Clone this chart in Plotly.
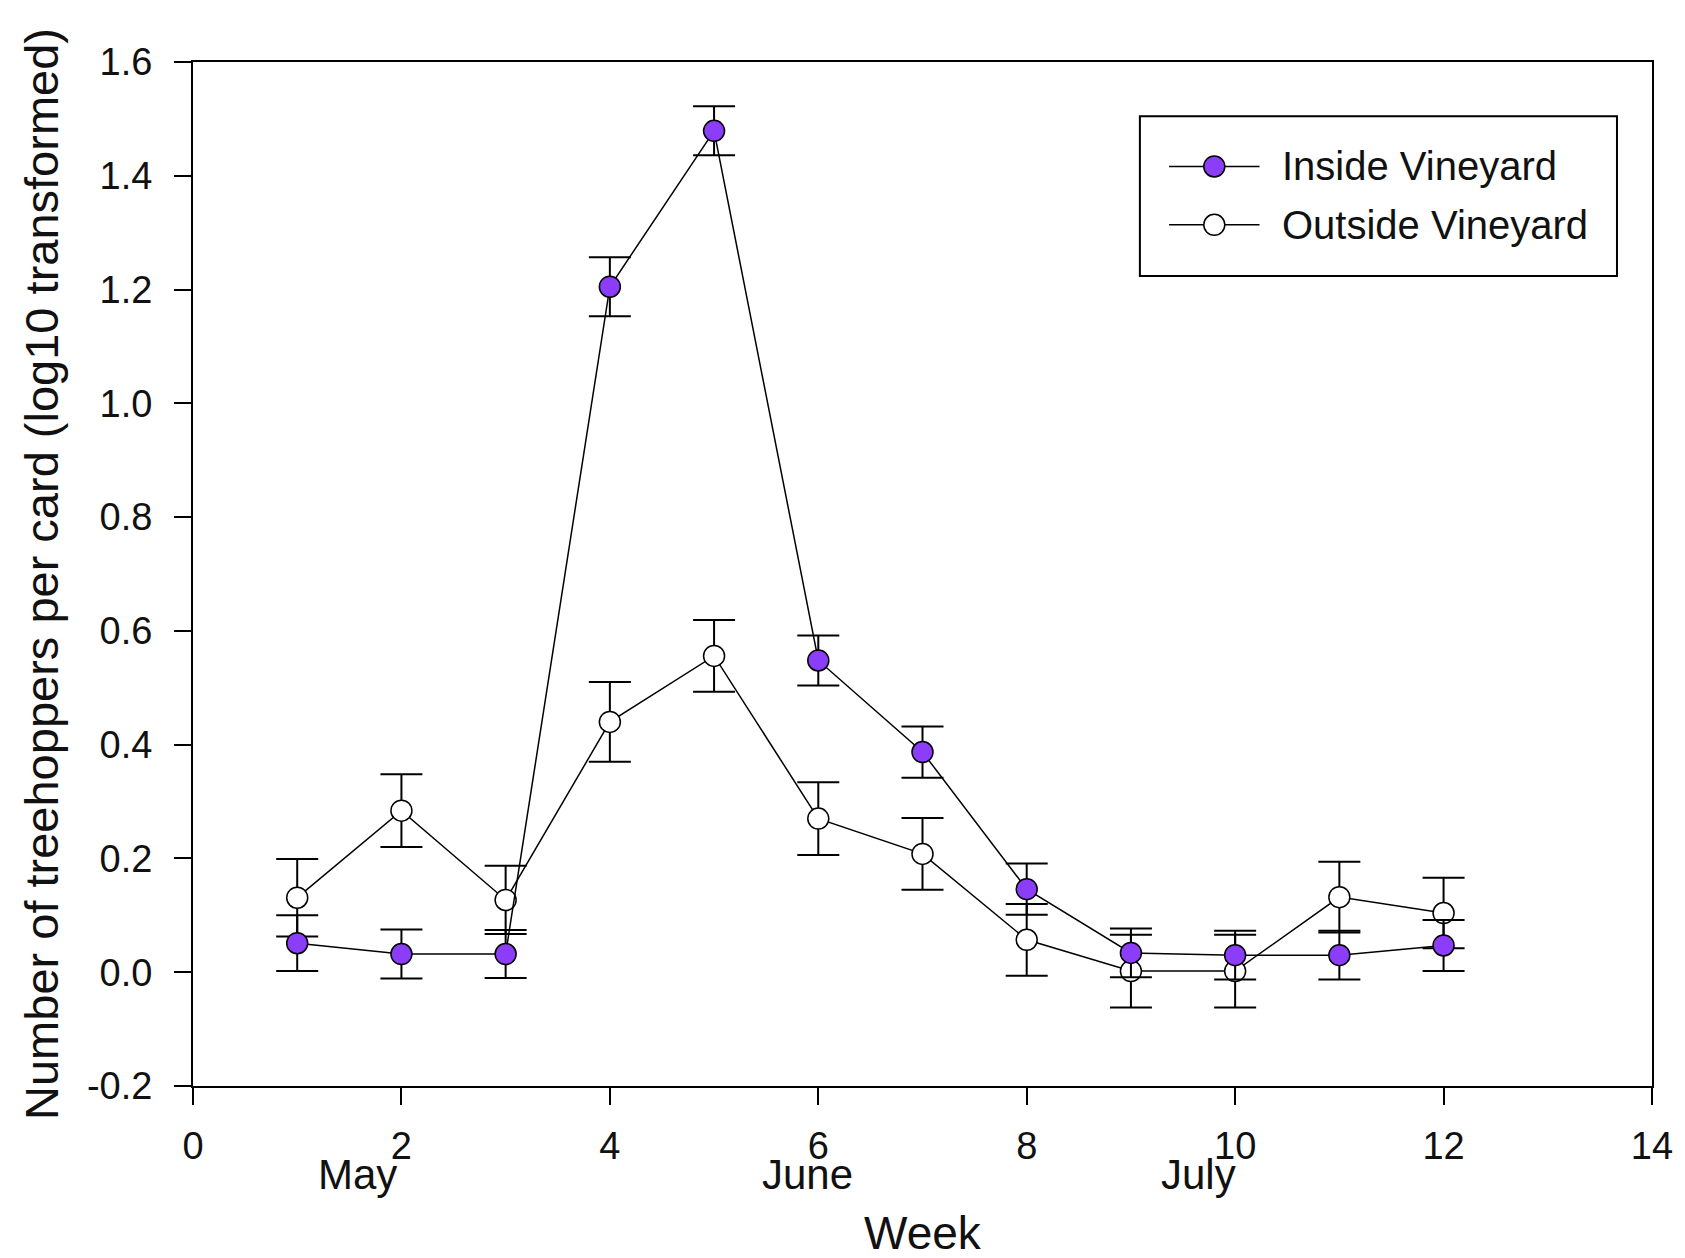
import plotly.graph_objects as go

weeks = [1, 2, 3, 4, 5, 6, 7, 8, 9, 10, 11, 12]
inside_mean = [0.051, 0.032, 0.032, 1.205, 1.479, 0.548, 0.387, 0.146, 0.034, 0.030, 0.030, 0.047]
inside_err = [0.049, 0.043, 0.042, 0.052, 0.043, 0.044, 0.045, 0.045, 0.043, 0.043, 0.043, 0.045]
outside_mean = [0.131, 0.284, 0.127, 0.440, 0.556, 0.270, 0.208, 0.057, 0.002, 0.002, 0.132, 0.104]
outside_err = [0.068, 0.064, 0.060, 0.070, 0.063, 0.064, 0.063, 0.063, 0.064, 0.064, 0.062, 0.062]

x_tickvals = [0, 2, 4, 6, 8, 10, 12, 14]
x_ticktext = ["0", "2", "4", "6", "8", "10", "12", "14"]
y_tickvals = [-0.2, 0.0, 0.2, 0.4, 0.6, 0.8, 1.0, 1.2, 1.4, 1.6]
y_ticktext = ["-0.2", "0.0", "0.2", "0.4", "0.6", "0.8", "1.0", "1.2", "1.4", "1.6"]
month_labels = ["May", "June", "July"]
month_pos = [1.58, 5.9, 9.65]
series_names = ["Inside Vineyard", "Outside Vineyard"]
series_fill = ["#8b3dfa", "white"]

FONT = "Liberation Sans, Arial, sans-serif"
MSIZE = 21

fig = go.Figure()
fig.add_trace(go.Scatter(
    x=weeks, y=outside_mean, name=series_names[1], mode="lines+markers",
    line=dict(color="black", width=1.5),
    marker=dict(symbol="circle", size=MSIZE, color=series_fill[1], line=dict(color="black", width=1.5)),
    error_y=dict(type="data", array=outside_err, visible=True, color="black", thickness=2, width=21),
    showlegend=False,
))
fig.add_trace(go.Scatter(
    x=weeks, y=inside_mean, name=series_names[0], mode="lines+markers",
    line=dict(color="black", width=1.5),
    marker=dict(symbol="circle", size=MSIZE, color=series_fill[0], line=dict(color="black", width=1.5)),
    error_y=dict(type="data", array=inside_err, visible=True, color="black", thickness=2, width=21),
    showlegend=False,
))

for lab, pos in zip(month_labels, month_pos):
    fig.add_annotation(x=pos, xref="x", y=0, yref="paper", text=lab, showarrow=False,
                       yanchor="middle", yshift=-88, font=dict(family=FONT, size=42, color="#111"))

# custom legend box
leg_x0, leg_x1, leg_y0, leg_y1 = 0.649, 0.976, 0.791, 0.947
row_y = [0.898, 0.841]
sym_x0, sym_x1, sym_xc, text_x = 0.669, 0.731, 0.700, 0.745
fig.add_shape(type="rect", xref="paper", yref="paper", x0=leg_x0, x1=leg_x1, y0=leg_y0, y1=leg_y1,
              line=dict(color="black", width=2), fillcolor="white", layer="above")
for name, fill, ry in zip(series_names, series_fill, row_y):
    fig.add_shape(type="line", xref="paper", yref="paper", x0=sym_x0, x1=sym_x1, y0=ry, y1=ry,
                  line=dict(color="black", width=1.5), layer="above")
    fig.add_shape(type="circle", xref="paper", yref="paper", xsizemode="pixel", ysizemode="pixel",
                  xanchor=sym_xc, yanchor=ry, x0=-MSIZE / 2, x1=MSIZE / 2, y0=-MSIZE / 2, y1=MSIZE / 2,
                  fillcolor=fill, line=dict(color="black", width=1.5), layer="above")
    fig.add_annotation(x=text_x, xref="paper", y=ry, yref="paper", text=name, showarrow=False,
                       xanchor="left", yanchor="middle", font=dict(family=FONT, size=40, color="#111"))

fig.update_layout(
    width=1685, height=1258,
    margin=dict(l=185, r=41, t=54, b=180),
    paper_bgcolor="white", plot_bgcolor="white",
    font=dict(family=FONT, color="#111"),
    showlegend=False,
    xaxis=dict(
        range=[0, 14], tickvals=x_tickvals, ticktext=x_ticktext, automargin=False,
        showgrid=False, zeroline=False, showline=True, linecolor="black", linewidth=2,
        mirror=True, ticks="outside", ticklen=17, tickwidth=2, tickcolor="black",
        tickfont=dict(family=FONT, size=38, color="#111"), ticklabelstandoff=8,
        title=dict(text="Week", font=dict(family=FONT, size=46, color="#111"), standoff=51),
    ),
    yaxis=dict(
        range=[-0.2, 1.6], tickvals=y_tickvals, ticktext=y_ticktext, automargin=False,
        showgrid=False, zeroline=False, showline=True, linecolor="black", linewidth=2,
        mirror=True, ticks="outside", ticklen=17, tickwidth=2, tickcolor="black",
        tickfont=dict(family=FONT, size=38, color="#111"), ticklabelstandoff=14,
        title=dict(text="Number of treehoppers per card (log10 transformed)",
                   font=dict(family=FONT, size=47, color="#111"), standoff=13),
    ),
)

fig.write_html("out.html")
